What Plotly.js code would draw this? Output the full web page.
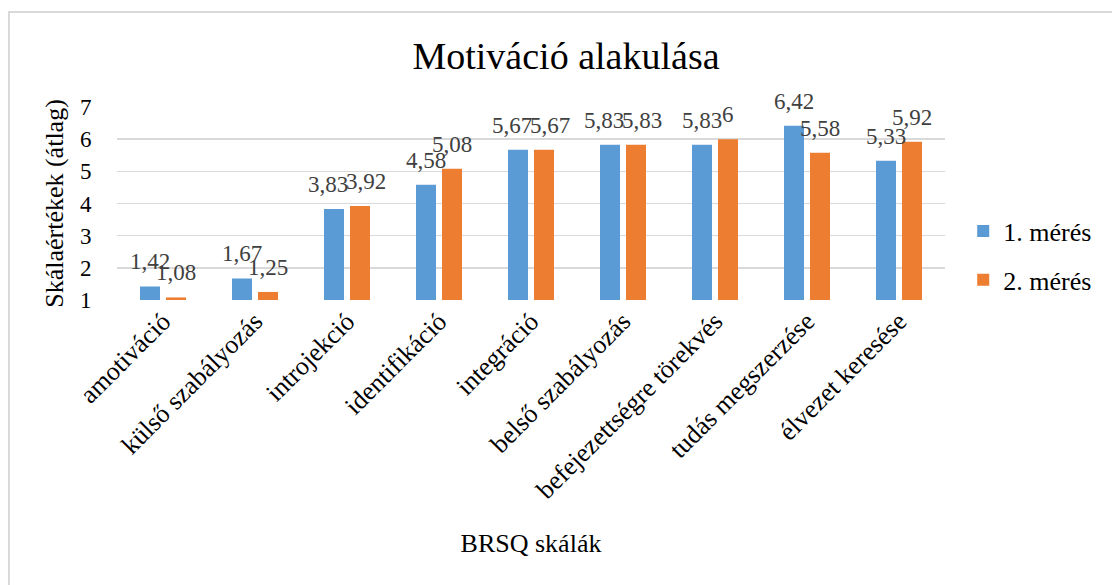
<!DOCTYPE html>
<html>
<head>
<meta charset="utf-8">
<script src="https://cdn.plot.ly/plotly-3.0.1.min.js"></script>
<style>
  html, body { margin: 0; padding: 0; background: #fff; }
  #frame { position: absolute; left: 8px; top: 11px; width: 1200px; height: 700px; border: 2px solid #d9d9d9; box-sizing: border-box; }
  #chart { position: absolute; left: 0; top: 0; width: 1112px; height: 585px; }
</style>
</head>
<body>
<div id="frame"></div>
<div id="chart"></div>
<script>
const categories = ["amotiváció", "külső szabályozás", "introjekció", "identifikáció", "integráció", "belső szabályozás", "befejezettségre törekvés", "tudás megszerzése", "élvezet keresése"];
const series1Name = "1. mérés";
const series2Name = "2. mérés";
const series1 = [1.42, 1.67, 3.83, 4.58, 5.67, 5.83, 5.83, 6.42, 5.33];
const series2 = [1.08, 1.25, 3.92, 5.08, 5.67, 5.83, 6, 5.58, 5.92];
const yTicks = [1, 2, 3, 4, 5, 6, 7];

const fmt = v => String(v).replace('.', ',');
const FONT = "Liberation Serif";

const traces = [
  { type: 'bar', name: series1Name, x: categories, y: series1, marker: { color: '#5B9BD5' }, legendgroup: 'a', hoverinfo: 'skip' },
  { type: 'bar', name: series2Name, x: categories, y: series2, marker: { color: '#ED7D31' }, legendgroup: 'b', hoverinfo: 'skip' }
];

// data labels: centred above each bar; when a pair would collide, they are set side by side
const LABEL_SIZE = 23, OFFSET = 13, PX_PER_UNIT = 32;
const labelFont = { family: FONT, size: LABEL_SIZE, color: '#404040' };
const textW = s => s.replace(/,/g, '').length * 0.5 * LABEL_SIZE + (s.includes(',') ? 0.25 * LABEL_SIZE : 0);
const annotations = [];
categories.forEach((c, i) => {
  const t1 = fmt(series1[i]), t2 = fmt(series2[i]);
  const hOverlap = (-OFFSET + textW(t1) / 2) > (OFFSET - textW(t2) / 2);
  const vOverlap = Math.abs(series1[i] - series2[i]) * PX_PER_UNIT < 8;
  const collide = hOverlap && vOverlap;
  const base = { xref: 'x', yref: 'y', showarrow: false, yanchor: 'bottom', yshift: 11, font: labelFont, x: c, borderpad: 0 };
  annotations.push(Object.assign({}, base, { y: series1[i], text: t1, xanchor: collide ? 'right' : 'center', xshift: collide ? 2 : -OFFSET }));
  annotations.push(Object.assign({}, base, { y: series2[i], text: t2, xanchor: collide ? 'left' : 'center', xshift: collide ? -2 : OFFSET }));
});

const layout = {
  width: 1112, height: 585,
  paper_bgcolor: 'rgba(0,0,0,0)', plot_bgcolor: 'rgba(0,0,0,0)',
  margin: { l: 117, r: 167, t: 107, b: 285 },
  font: { family: FONT, size: 23, color: '#000' },
  title: { text: 'Motiváció alakulása', font: { family: FONT, size: 38, color: '#000' }, x: 0.509, xanchor: 'center', xref: 'container', y: 0.905, yanchor: 'middle' },
  barmode: 'group', bargap: 0.435, bargroupgap: 0.23,
  showlegend: true,
  legend: { x: 1.022, xanchor: 'left', y: 0.23, yanchor: 'middle', font: { family: FONT, size: 26, color: '#000' }, traceorder: 'grouped', tracegroupgap: 12, itemwidth: 30 },
  annotations: annotations,
  xaxis: {
    type: 'category', tickangle: -45, showgrid: false, showline: false, zeroline: false,
    tickfont: { family: FONT, size: 26, color: '#000' },
    title: { text: 'BRSQ skálák', font: { family: FONT, size: 26, color: '#000' }, standoff: 30 },
    automargin: false
  },
  yaxis: {
    range: [1, 7], tickvals: yTicks, ticktext: yTicks.map(String),
    showgrid: true, gridcolor: '#d9d9d9', gridwidth: 1.5, zeroline: false, showline: false,
    ticks: 'outside', ticklen: 20, tickcolor: 'rgba(0,0,0,0)',
    tickfont: { family: FONT, size: 23, color: '#000' },
    title: { text: 'Skálaértékek (átlag)', font: { family: FONT, size: 26, color: '#000' }, standoff: 8 },
    automargin: false
  }
};

Plotly.newPlot('chart', traces, layout, { staticPlot: true, displayModeBar: false });
</script>
</body>
</html>
